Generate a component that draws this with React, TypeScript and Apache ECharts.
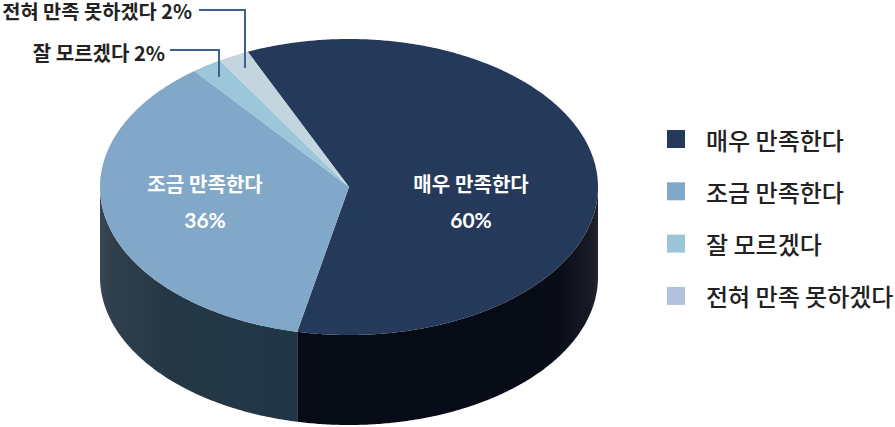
import React, { useEffect, useRef } from "react";
import * as echarts from "echarts";

const categories = ["매우 만족한다", "조금 만족한다", "잘 모르겠다", "전혀 만족 못하겠다"];
const values = [60, 36, 2, 2];
const topColors = ["#25395b", "#82a8c9", "#9cc6da", "#c3d6e0"];
const legendColors = ["#25395b", "#82a8c9", "#9cc5d8", "#b3c2dc"];

const CX = 349;
const CY = 187;
const RX = 249;
const RY = 148;
const DEPTH = 90;
const START_DEG = -24;
const FONT = "'Noto Sans CJK KR', sans-serif";
const LABEL_FONT = "Lato, 'Noto Sans CJK KR', sans-serif";

const point = (deg: number, dy = 0): number[] => {
  const r = (deg * Math.PI) / 180;
  return [CX + RX * Math.sin(r), CY + dy - RY * Math.cos(r)];
};

const arc = (a0: number, a1: number, dy = 0): number[][] => {
  const n = Math.max(2, Math.ceil(Math.abs(a1 - a0) * 2));
  const pts: number[][] = [];
  for (let i = 0; i <= n; i++) pts.push(point(a0 + ((a1 - a0) * i) / n, dy));
  return pts;
};

const sideFills = [
  new echarts.graphic.LinearGradient(0, 0, 1, 0, [
    { offset: 0, color: "#070b16" },
    { offset: 0.86, color: "#080c17" },
    { offset: 0.97, color: "#171a25" },
    { offset: 1, color: "#22252f" },
  ]),
  new echarts.graphic.LinearGradient(0, 0, 1, 0, [
    { offset: 0, color: "#3a4653" },
    { offset: 0.08, color: "#2e3e4c" },
    { offset: 0.35, color: "#253745" },
    { offset: 1, color: "#203748" },
  ]),
];

const total = values.reduce((s, v) => s + v, 0);
const startOf = (i: number) =>
  START_DEG + (values.slice(0, i).reduce((s, v) => s + v, 0) / total) * 360;

const makeSeries = (i: number) => ({
  type: "custom",
  name: categories[i],
  coordinateSystem: "none",
  silent: true,
  itemStyle: { color: legendColors[i] },
  data: [values[i]],
  renderItem: (_p: any, api: any) => {
    const a0 = startOf(i);
    const a1 = a0 + (api.value(0) / total) * 360;
    const children: any[] = [];
    const s0 = Math.max(a0, 90);
    const s1 = Math.min(a1, 270);
    if (s1 > s0) {
      children.push({
        type: "polygon",
        shape: { points: [...arc(s0, s1), ...arc(s1, s0, DEPTH)] },
        style: { fill: sideFills[i] ?? "#203748" },
      });
    }
    children.push({
      type: "polygon",
      shape: { points: [[CX, CY], ...arc(a0, a1)] },
      style: { fill: topColors[i] },
    });
    return { type: "group", children };
  },
});

const text = (t: string, x: number, y: number, align: string, fill: string, font: string, size = 20, weight = 500) => ({
  type: "text",
  x,
  y,
  z: 10,
  style: { text: t, fill, font: `${weight} ${size}px ${font}`, textAlign: align, textVerticalAlign: "middle" },
});

const leader = (points: number[][]) => ({
  type: "polyline",
  z: 10,
  shape: { points },
  style: { stroke: "#3d6291", lineWidth: 2, fill: "none" },
});

export default function App() {
  const ref = useRef<HTMLDivElement>(null);
  useEffect(() => {
    document.body.style.margin = "0";
    const chart = echarts.init(ref.current!, undefined, { renderer: "svg" });
    chart.setOption({
      animation: false,
      backgroundColor: "#ffffff",
      legend: {
        orient: "vertical",
        left: 667,
        top: 126,
        padding: 0,
        itemWidth: 18,
        itemHeight: 18,
        itemGap: 26.3,
        selectedMode: false,
        data: categories.map((name, i) => ({
          name,
          icon: "rect",
          itemStyle: { color: legendColors[i] },
        })),
        textStyle: {
          color: "#222222",
          fontFamily: FONT,
          fontSize: 24,
          fontWeight: 500,
          lineHeight: 24,
          padding: [0, 0, 2, 16],
        },
      },
      series: categories.map((_, i) => makeSeries(i)),
      graphic: [
        text(categories[0], 471, 184, "center", "#ffffff", LABEL_FONT, 20, 600),
        text(`${values[0]}%`, 471, 219, "center", "#ffffff", LABEL_FONT, 21, 700),
        text(categories[1], 205, 184, "center", "#ffffff", LABEL_FONT, 20, 600),
        text(`${values[1]}%`, 205, 219, "center", "#ffffff", LABEL_FONT, 21, 700),
        text(`${categories[3]} ${values[3]}%`, 192, 10.5, "right", "#222222", FONT, 19.8, 600),
        text(`${categories[2]} ${values[2]}%`, 165, 52, "right", "#222222", FONT, 20, 600),
        leader([[199, 10], [245, 10], [245, 68]]),
        leader([[170, 50], [219, 50], [219, 77]]),
      ],
    });
    return () => chart.dispose();
  }, []);
  return <div ref={ref} style={{ width: 895, height: 427 }} />;
}
